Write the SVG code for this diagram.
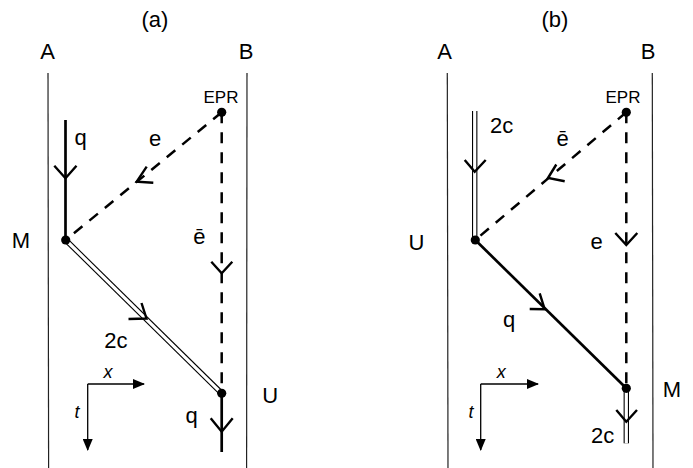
<svg xmlns="http://www.w3.org/2000/svg" width="693" height="468" viewBox="0 0 693 468">
<defs>
<style>
text{font-family:"Liberation Sans",Arial,sans-serif;fill:#000;text-anchor:middle}
.lbl{font-size:22px}
.epr{font-size:17px}
.ax{font-size:18px;font-style:italic}
.wall{stroke:#222;stroke-width:1.2;fill:none}
.solid{stroke:#000;stroke-width:2.7;fill:none}
.dash{stroke:#000;stroke-width:2.5;fill:none;stroke-dasharray:11 9}
.dblo{stroke:#000;stroke-width:5.4;fill:none}
.dbli{stroke:#fff;stroke-width:3.2;fill:none}
.chev{stroke:#000;stroke-width:2.4;fill:none;stroke-linecap:butt;stroke-linejoin:miter}
.thin{stroke:#000;stroke-width:1.3;fill:none}
.dot{fill:#000}
</style>
<marker id="ah" viewBox="0 0 12 10" refX="11" refY="5" markerWidth="12" markerHeight="10" markerUnits="userSpaceOnUse" orient="auto">
<path d="M0,0 L12,5 L0,10 Z" fill="#000"/>
</marker>
</defs>
<rect width="693" height="468" fill="#fff"/>

<!-- panel titles and walls -->
<text class="lbl" x="155" y="27">(a)</text>
<text class="lbl" x="555" y="27">(b)</text>
<text class="lbl" x="47.7" y="59">A</text>
<text class="lbl" x="246" y="59">B</text>
<text class="lbl" x="444.7" y="59">A</text>
<text class="lbl" x="648" y="59">B</text>
<line class="wall" x1="48" y1="73" x2="48.6" y2="468"/>
<line class="wall" x1="247" y1="73" x2="246.6" y2="468"/>
<line class="wall" x1="447.3" y1="73" x2="448" y2="468"/>
<line class="wall" x1="652.3" y1="73" x2="653" y2="468"/>

<g id="connectors">
<!-- panel a -->
<line class="solid" x1="65.5" y1="120" x2="65.5" y2="240"/>
<polyline class="chev" points="54.3,165.7 65.5,178.3 76.5,165.7"/>
<line class="dash" x1="221.7" y1="112.3" x2="65.7" y2="240"/>
<polyline class="chev" points="146.7,166.7 136.7,181.7 153.3,182.7"/>
<line class="dash" x1="221.7" y1="112.3" x2="221.7" y2="393.3"/>
<polyline class="chev" points="211.3,261.7 221.7,273.3 232.3,261.7"/>
<line class="dblo" x1="65.7" y1="240" x2="221.7" y2="393.3"/>
<line class="dbli" x1="65.7" y1="240" x2="221.7" y2="393.3"/>
<polyline class="chev" points="141.5,303 146.5,318.5 128.5,319"/>
<line class="solid" x1="221.7" y1="393.3" x2="221.7" y2="452"/>
<polyline class="chev" points="210.7,418.3 221.7,431.7 232.7,418.3"/>
<!-- panel b -->
<line class="dblo" x1="474.7" y1="111" x2="474.7" y2="240"/>
<line class="dbli" x1="474.7" y1="111" x2="474.7" y2="240"/>
<polyline class="chev" points="464.7,160 474.7,171.7 485.7,160"/>
<line class="dash" x1="626.3" y1="112.3" x2="475.3" y2="240"/>
<polyline class="chev" points="556.3,164.5 548,178 564.7,181.3"/>
<line class="dash" x1="626.3" y1="112.3" x2="626.3" y2="388.3"/>
<polyline class="chev" points="615.3,233 626.3,245 637.3,233"/>
<line class="solid" x1="475.3" y1="240" x2="626.3" y2="388.3"/>
<polyline class="chev" points="539.7,293.3 544.7,309.3 529.7,309"/>
<line class="dblo" x1="626.3" y1="388.3" x2="626.3" y2="443.3"/>
<line class="dbli" x1="626.3" y1="388.3" x2="626.3" y2="443.3"/>
<polyline class="chev" points="616.3,410 626.3,421.7 637,410"/>
</g>

<!-- events -->
<g id="epr-a"><circle class="dot" cx="221.7" cy="112.3" r="4.6"/><text class="epr" x="221" y="103">EPR</text></g>
<g id="M-a"><circle class="dot" cx="65.7" cy="240" r="4.6"/><text class="lbl" x="21" y="248">M</text></g>
<g id="U-a"><circle class="dot" cx="221.7" cy="393.3" r="4.6"/><text class="lbl" x="270.3" y="403">U</text></g>
<g id="epr-b"><circle class="dot" cx="626.3" cy="112.3" r="4.6"/><text class="epr" x="623" y="103">EPR</text></g>
<g id="U-b"><circle class="dot" cx="475.3" cy="240" r="4.6"/><text class="lbl" x="416.5" y="250">U</text></g>
<g id="M-b"><circle class="dot" cx="626.3" cy="388.3" r="4.6"/><text class="lbl" x="671.8" y="397">M</text></g>

<!-- line labels -->
<g id="labels">
<text class="lbl" x="80.7" y="145">q</text>
<text class="lbl" x="155" y="146">e</text>
<text class="lbl" x="199.3" y="243.5">ē</text>
<text class="lbl" x="115.8" y="348">2c</text>
<text class="lbl" x="191.7" y="423">q</text>
<text class="lbl" x="501.7" y="132.7">2c</text>
<text class="lbl" x="562.7" y="145.7">ē</text>
<text class="lbl" x="596.7" y="249">e</text>
<text class="lbl" x="509" y="326.5">q</text>
<text class="lbl" x="602.7" y="443.3">2c</text>
</g>

<!-- axes -->
<g id="axes-a">
<polyline class="thin" points="87.7,384 144,384" marker-end="url(#ah)"/>
<line class="thin" x1="87.7" y1="384" x2="87.7" y2="450" marker-end="url(#ah)"/>
<text class="ax" x="108" y="378">x</text>
<text class="ax" x="77" y="418">t</text>
</g>
<g id="axes-b">
<polyline class="thin" points="480.7,384 538,384" marker-end="url(#ah)"/>
<line class="thin" x1="480.7" y1="384" x2="480.7" y2="450" marker-end="url(#ah)"/>
<text class="ax" x="501.3" y="378">x</text>
<text class="ax" x="471" y="418">t</text>
</g>
</svg>
